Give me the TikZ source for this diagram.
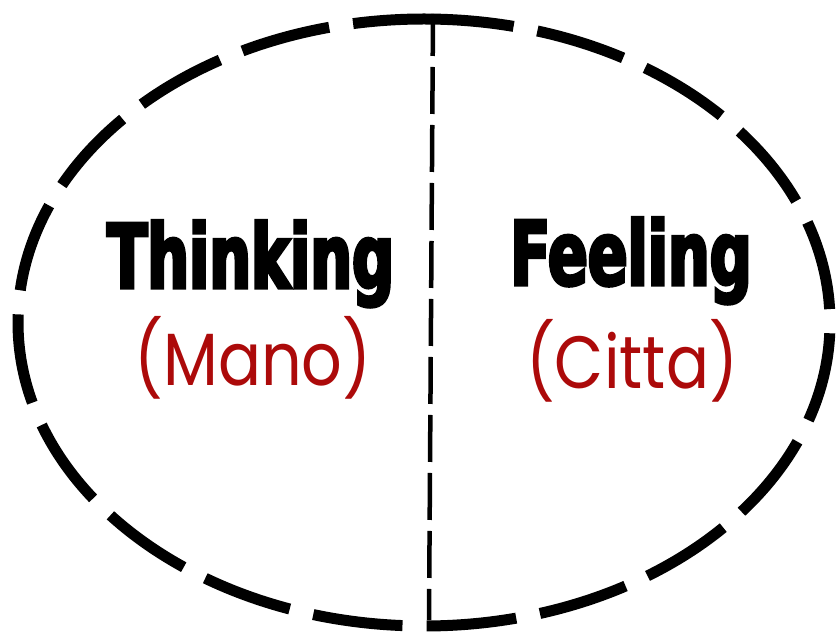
\documentclass[tikz,border=0pt]{standalone}
\usepackage{fontspec}
\usetikzlibrary{positioning}
\newfontfamily\headfont[FakeStretch=0.66,FakeBold=3.5]{DejaVu Sans}
\newfontfamily\notefont[FakeStretch=0.86]{Poppins}
\definecolor{mindred}{RGB}{172,10,10}

\begin{document}
\begin{tikzpicture}[
  x=1pt,
  y=1pt,
  ring/.style={
    line width=11pt,
    dash pattern=on 90pt off 24.2pt
  },
  divider/.style={
    line width=4.5pt,
    dash pattern=on 47pt off 11pt,
    dash phase=5pt
  },
  term/.style={
    inner sep=0pt,
    anchor=base west,
    font=\headfont\bfseries\fontsize{89}{100}\selectfont
  },
  gloss/.style={
    inner sep=0pt,
    anchor=base,
    text=mindred,
    font=\notefont\fontsize{74}{90}\selectfont
  }
]
  \useasboundingbox (0,0) rectangle (837,632);

  % the mind as one dashed ring, started at its top
  \draw[ring] (424,613) arc[start angle=90,end angle=-270,
    x radius=406,y radius=303.5];

  % split into two halves
  \coordinate (top) at (433,618);
  \coordinate (bottom) at (429,12);
  \draw[divider] (top) -- (bottom);

  \node[term] (thinking) at (107,344) {Thinking};
  \node[term] (feeling) at (510,347) {Feeling};
  \node[gloss] (mano) at (253,246) {(Mano)};
  \node[gloss] (citta) at (632,243) {(Citta)};
\end{tikzpicture}
\end{document}
